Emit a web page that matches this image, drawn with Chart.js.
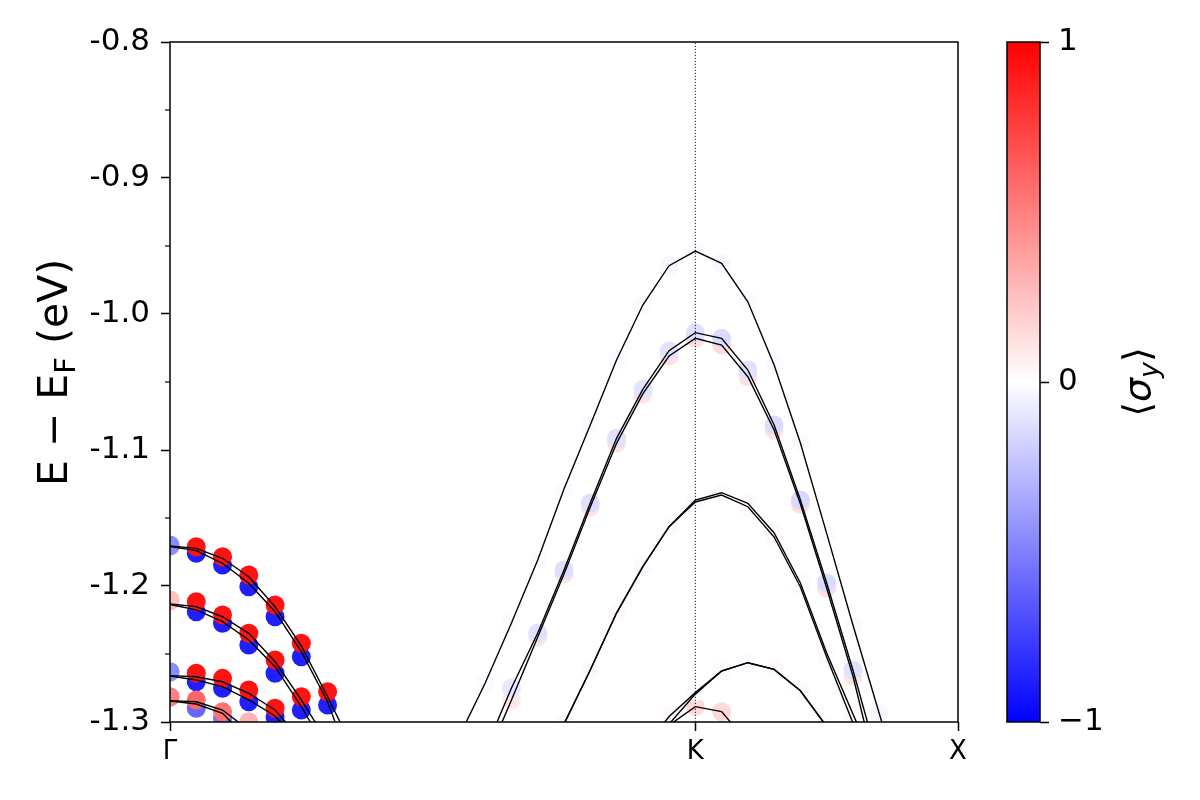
<!DOCTYPE html>
<html>
<head>
<meta charset="utf-8">
<script src="https://cdn.jsdelivr.net/npm/chart.js@4.4.1/dist/chart.umd.min.js"></script>
<style>
  body { margin: 0; background: #fff; }
  #wrap { position: relative; width: 1200px; height: 800px; }
  canvas { position: absolute; top: 0; }
  #bands { left: 0; }
  #cbar { left: 960px; }
</style>
</head>
<body>
<div id="wrap">
  <canvas id="bands" width="1200" height="800"></canvas>
  <canvas id="cbar" width="240" height="800"></canvas>
</div>
<script>
// k-path: Γ (0) -> K (20) -> X (30)
const kPoints = [0, 1, 2, 3, 4, 5, 6, 7, 8, 9, 10, 11, 12, 13, 14, 15,
                 16, 17, 18, 19, 20, 21, 22, 23, 24, 25, 26, 27, 28, 29, 30];
const kTickPos    = [0, 20, 30];
const kTickLabels = ['Γ', 'K', 'X'];

const eTicks      = [-1.3, -1.2, -1.1, -1.0, -0.9, -0.8];
const eTickLabels = ['-1.3', '-1.2', '-1.1', '-1.0', '-0.9', '-0.8'];
const eMinorTicks = [-1.25, -1.15, -1.05, -0.95, -0.85];

const cbTicks      = [-1, 0, 1];
const cbTickLabels = ['\u22121', '0', '1'];

// bands near Γ (pairs of nearly degenerate bands), starting at k = 0
const g1Upper = [-1.1706, -1.1723, -1.1796, -1.1932, -1.2152, -1.2441, -1.2814, -1.3206];
const g1Lower = [-1.1710, -1.1740, -1.1833, -1.1980, -1.2189, -1.2483, -1.2851, -1.3375];
const g2Upper = [-1.2132, -1.2152, -1.2226, -1.2348, -1.2557, -1.2838, -1.3147];
const g2Lower = [-1.2136, -1.2176, -1.2262, -1.2397, -1.2593, -1.2887, -1.3221];
const g3Upper = [-1.2659, -1.2667, -1.2704, -1.2789, -1.2912, -1.3132];
const g3Lower = [-1.2662, -1.2691, -1.2740, -1.2838, -1.2956, -1.3169];
const g4Upper = [-1.2843, -1.2851, -1.2912, -1.3059];
const g4Lower = [-1.2846, -1.2868, -1.2936, -1.3132];

// projected <σy> markers near Γ
const g1RedE  = [-1.1699, -1.1711, -1.1785, -1.1919, -1.2140, -1.2421, -1.2777];
const g1RedS  = [-0.45, 0.93, 0.93, 0.93, 0.93, 0.93, 0.93];
const g1BlueE = [-1.1706, -1.1760, -1.1846, -1.2005, -1.2226, -1.2520, -1.2875];
const g1BlueS = [-0.45, -0.88, -0.88, -0.88, -0.88, -0.88, -0.88];
const g2RedE  = [-1.2103, -1.2115, -1.2213, -1.2348, -1.2544, -1.2814];
const g2RedS  = [0.25, 0.93, 0.93, 0.93, 0.93, 0.93];
const g2BlueE = [-1.2110, -1.2189, -1.2274, -1.2434, -1.2642, -1.2912];
const g2BlueS = [0.25, -0.88, -0.88, -0.88, -0.88, -0.88];
const g3RedE  = [-1.2630, -1.2642, -1.2679, -1.2765, -1.2899];
const g3RedS  = [-0.45, 0.93, 0.93, 0.93, 0.93];
const g3BlueE = [-1.2632, -1.2704, -1.2752, -1.2851, -1.2961];
const g3BlueS = [-0.45, -0.88, -0.88, -0.88, -0.88];
const g4RedE  = [-1.2814, -1.2838, -1.2924, -1.2998];
const g4RedS  = [0.5, 0.6, 0.55, 0.3];
const g4BlueE = [-1.2816, -1.2899, -1.2973, -1.3059];
const g4BlueS = [0.5, -0.6, -0.55, -0.3];

// bands around K, one value per k-point (null = not shown)
const bandA = [null, null, null, null, null, null, null, null, null, null, null,
  -1.3110, -1.2713, -1.2272, -1.1809, -1.1287, -1.0816, -1.0338, -0.9934, -0.9645,
  -0.9537, -0.9627, -0.9910, -1.0375, -1.0949, -1.1613, -1.2287, -1.2936, -1.3588,
  null, null];
const sigA = [null, null, null, null, null, null, null, null, null, null, null,
  -0.01, -0.02, -0.02, -0.02, -0.02, -0.02, -0.02, -0.02, -0.03,
  -0.02, -0.03, -0.02, -0.02, -0.02, -0.02, -0.02, -0.03, -0.02,
  null, null];

const bandB = [null, null, null, null, null, null, null, null, null, null, null, null,
  -1.3206, -1.2750, -1.2346, -1.1882, -1.1390, -1.0914, -1.0554, -1.0270,
  -1.0137, -1.0179, -1.0412, -1.0816, -1.1368, -1.1978, -1.2618, -1.3309,
  null, null, null];
const sigB = [null, null, null, null, null, null, null, null, null, null, null, null,
  -0.08, -0.10, -0.12, -0.13, -0.13, -0.12, -0.11, -0.11,
  -0.12, -0.14, -0.12, -0.14, -0.15, -0.14, -0.12, -0.10,
  null, null, null];

const bandC = [null, null, null, null, null, null, null, null, null, null, null, null,
  -1.3290, -1.2838, -1.2375, -1.1912, -1.1419, -1.0951, -1.0588, -1.0309,
  -1.0179, -1.0228, -1.0461, -1.0853, -1.1397, -1.2015, -1.2662, -1.3450,
  null, null, null];
const sigC = [null, null, null, null, null, null, null, null, null, null, null, null,
  0.08, 0.09, 0.10, 0.11, 0.11, 0.11, 0.11, 0.12,
  0.13, 0.14, 0.12, 0.12, 0.14, 0.12, 0.10, 0.09,
  null, null, null];

const bandD1 = [null, null, null, null, null, null, null, null, null, null, null, null, null, null,
  -1.3600, -1.3015, -1.2618, -1.2199, -1.1858, -1.1564,
  -1.1368, -1.1314, -1.1392, -1.1610, -1.1978, -1.2493, -1.2941, -1.3390,
  null, null, null];
const sigD1 = [null, null, null, null, null, null, null, null, null, null, null, null, null, null,
  0.01, 0.02, 0.02, 0.02, -0.02, -0.02,
  -0.02, 0.02, 0.02, 0.02, 0.02, 0.02, 0.02, 0.01,
  null, null, null];

const bandD2 = [null, null, null, null, null, null, null, null, null, null, null, null, null, null,
  -1.3600, -1.3015, -1.2618, -1.2199, -1.1858, -1.1564,
  -1.1382, -1.1331, -1.1417, -1.1640, -1.2007, -1.2522, -1.3007, -1.3490,
  null, null, null];
const sigD2 = [null, null, null, null, null, null, null, null, null, null, null, null, null, null,
  -0.01, -0.02, -0.02, -0.01, 0.01, 0.02,
  0.01, -0.01, -0.02, -0.02, -0.01, -0.02, -0.01, -0.01,
  null, null, null];

const bandE1 = [null, null, null, null, null, null, null, null, null, null, null, null, null, null,
  null, null, null, null, -1.3200, -1.2960,
  -1.2784, -1.2625, -1.2564, -1.2613, -1.2770, -1.3033, -1.3400,
  null, null, null, null];
const sigE1 = [null, null, null, null, null, null, null, null, null, null, null, null, null, null,
  null, null, null, null, 0.02, 0.02,
  -0.02, -0.02, -0.02, 0.02, 0.02, 0.02, 0.02,
  null, null, null, null];

const bandE2 = [null, null, null, null, null, null, null, null, null, null, null, null, null, null,
  null, null, null, null, -1.3300, -1.3015,
  -1.2795, -1.2625, -1.2564, -1.2613, -1.2770, -1.3033, -1.3400,
  null, null, null, null];

const bandF = [null, null, null, null, null, null, null, null, null, null, null, null, null, null,
  null, null, null, null, null, -1.3024,
  -1.2887, -1.2924, -1.3151,
  null, null, null, null, null, null, null, null];
const sigF = [null, null, null, null, null, null, null, null, null, null, null, null, null, null,
  null, null, null, null, null, 0.13,
  0.15, 0.15, 0.12,
  null, null, null, null, null, null, null, null];

// matplotlib "bwr" colormap
function bwr(s) {
  const t = (s + 1) / 2;
  if (t < 0.5) {
    const c = Math.round(510 * t);
    return 'rgb(' + c + ',' + c + ',255)';
  }
  const c = Math.round(510 * (1 - t));
  return 'rgb(255,' + c + ',' + c + ')';
}

function points(e) {
  return e.map((v, i) => ({ x: kPoints[i], y: v })).filter(p => p.y !== null);
}

function colours(e, s) {
  return e.map((v, i) => v === null ? null : bwr(s[i])).filter(c => c !== null);
}

function line(e) {
  return { data: points(e), showLine: true, pointRadius: 0, borderColor: '#000',
           borderWidth: 1.4, order: 0, clip: 0 };
}

function dots(e, s, order) {
  return { data: points(e), showLine: false, pointRadius: 9.5, pointBorderWidth: 0,
           pointBackgroundColor: colours(e, s), order: order, clip: 0 };
}

// text with sub-scripts, rotated to read bottom to top
function drawRotated(ctx, parts, x, y, size, centre) {
  ctx.save();
  ctx.translate(x, y);
  ctx.rotate(-Math.PI / 2);
  ctx.fillStyle = '#000';
  ctx.textBaseline = 'alphabetic';
  ctx.textAlign = 'left';
  const fontOf = p => (p.italic ? 'italic ' : '') + Math.round(p.sub ? size * 0.7 : size) + 'px "DejaVu Sans"';
  let total = 0;
  parts.forEach(p => { ctx.font = fontOf(p); total += ctx.measureText(p.t).width; });
  let pos = centre ? -total / 2 : 0;
  parts.forEach(p => {
    ctx.font = fontOf(p);
    ctx.fillText(p.t, pos, p.sub ? size * 0.2 : 0);
    pos += ctx.measureText(p.t).width;
  });
  ctx.restore();
}

Chart.defaults.font.family = '"DejaVu Sans"';
Chart.defaults.color = '#000';

const bandFrame = {
  id: 'bandFrame',
  afterDraw(chart) {
    const { ctx, chartArea: a, scales } = chart;
    ctx.save();
    ctx.strokeStyle = '#000';
    ctx.lineWidth = 1.2;
    eMinorTicks.forEach(v => {
      const y = scales.y.getPixelForValue(v);
      ctx.beginPath();
      ctx.moveTo(a.left - 5, y);
      ctx.lineTo(a.left, y);
      ctx.stroke();
    });
    ctx.lineWidth = 1.5;
    ctx.strokeRect(a.left, a.top, a.right - a.left, a.bottom - a.top);
    ctx.restore();
    drawRotated(ctx, [{ t: 'E \u2212 E' }, { t: 'F', sub: true }, { t: ' (eV)' }], 67, 486, 41, false);
  }
};

new Chart(document.getElementById('bands'), {
  type: 'scatter',
  data: {
    datasets: [
      line(g1Upper), line(g1Lower), line(g2Upper), line(g2Lower),
      line(g3Upper), line(g3Lower), line(g4Upper), line(g4Lower),
      line(bandA), line(bandB), line(bandC), line(bandD1), line(bandD2),
      line(bandE1), line(bandE2), line(bandF),
      {
        data: [{ x: kTickPos[1], y: eTicks[0] }, { x: kTickPos[1], y: eTicks[eTicks.length - 1] }],
        showLine: true, pointRadius: 0, borderColor: '#000', borderWidth: 0.9,
        borderDash: [1.2, 1.8], order: 0, clip: 0
      },
      dots(g1RedE, g1RedS, 1), dots(g2RedE, g2RedS, 1), dots(g3RedE, g3RedS, 1), dots(g4RedE, g4RedS, 1),
      dots(g1BlueE, g1BlueS, 2), dots(g2BlueE, g2BlueS, 2), dots(g3BlueE, g3BlueS, 2), dots(g4BlueE, g4BlueS, 2),
      dots(bandA, sigA, 3), dots(bandB, sigB, 3), dots(bandC, sigC, 3),
      dots(bandD1, sigD1, 3), dots(bandD2, sigD2, 3), dots(bandE1, sigE1, 3), dots(bandF, sigF, 3)
    ]
  },
  options: {
    responsive: false,
    animation: false,
    events: [],
    layout: { padding: { top: 42, right: 242, left: 0, bottom: 0 } },
    plugins: { legend: { display: false }, tooltip: { enabled: false } },
    scales: {
      x: {
        type: 'linear', min: 0, max: 30,
        afterBuildTicks: s => { s.ticks = kTickPos.map(v => ({ value: v })); },
        afterFit: s => { s.height = 78; },
        ticks: {
          callback: v => kTickLabels[kTickPos.indexOf(v)],
          font: { size: 26 }, color: '#000', padding: 6, maxRotation: 0, autoSkip: false
        },
        grid: { drawOnChartArea: false, drawTicks: true, tickLength: 9, tickWidth: 1.5, tickColor: '#000' },
        border: { display: false }
      },
      y: {
        type: 'linear', min: -1.3, max: -0.8,
        afterBuildTicks: s => { s.ticks = eTicks.map(v => ({ value: v })); },
        afterFit: s => { s.width = 170; },
        ticks: {
          callback: (v, i) => eTickLabels[i],
          font: { size: 31 }, color: '#000', padding: 11, autoSkip: false
        },
        grid: { drawOnChartArea: false, drawTicks: true, tickLength: 9, tickWidth: 1.5, tickColor: '#000' },
        border: { display: false }
      }
    }
  },
  plugins: [bandFrame]
});

const cbFrame = {
  id: 'cbFrame',
  afterDraw(chart) {
    const { ctx, chartArea: a } = chart;
    ctx.save();
    ctx.strokeStyle = '#000';
    ctx.lineWidth = 1.5;
    ctx.strokeRect(a.left, a.top, a.right - a.left, a.bottom - a.top);
    ctx.restore();
    drawRotated(ctx, [{ t: '\u27E8' }, { t: '\u03C3', italic: true }, { t: 'y', italic: true, sub: true }, { t: '\u27E9' }],
                190, (a.top + a.bottom) / 2, 38, true);
  }
};

new Chart(document.getElementById('cbar'), {
  type: 'bar',
  data: {
    labels: ['σy'],
    datasets: [{
      data: [[cbTicks[0], cbTicks[cbTicks.length - 1]]],
      backgroundColor: c => {
        const a = c.chart.chartArea;
        if (!a) return '#fff';
        const g = c.chart.ctx.createLinearGradient(0, a.bottom, 0, a.top);
        g.addColorStop(0, bwr(-1));
        g.addColorStop(0.5, bwr(0));
        g.addColorStop(1, bwr(1));
        return g;
      },
      borderWidth: 0, barPercentage: 1, categoryPercentage: 1
    }]
  },
  options: {
    responsive: false,
    animation: false,
    events: [],
    layout: { padding: { top: 42, left: 47, bottom: 78, right: 0 } },
    plugins: { legend: { display: false }, tooltip: { enabled: false } },
    scales: {
      x: { display: false },
      y: {
        position: 'right', min: -1, max: 1,
        afterBuildTicks: s => { s.ticks = cbTicks.map(v => ({ value: v })); },
        afterFit: s => { s.width = 160; },
        ticks: { callback: (v, i) => cbTickLabels[i], font: { size: 31 }, color: '#000', padding: 9 },
        grid: { drawOnChartArea: false, drawTicks: true, tickLength: 9, tickWidth: 1.5, tickColor: '#000' },
        border: { display: false }
      }
    }
  },
  plugins: [cbFrame]
});
</script>
</body>
</html>
